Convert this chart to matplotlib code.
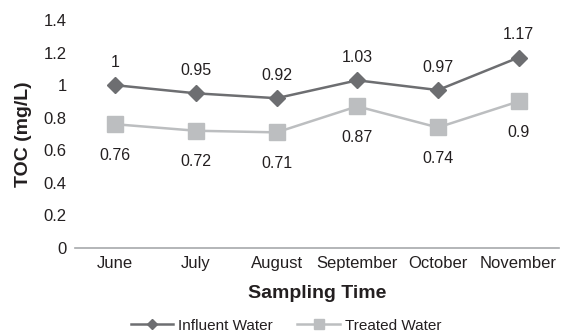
import matplotlib.pyplot as plt
from matplotlib.lines import Line2D

plt.rcParams['font.family'] = ['Liberation Sans', 'DejaVu Sans']

months = ['June', 'July', 'August', 'September', 'October', 'November']
influent = [1.00, 0.95, 0.92, 1.03, 0.97, 1.17]
treated = [0.76, 0.72, 0.71, 0.87, 0.74, 0.90]

dark = '#6d6e71'
light = '#bcbec0'
text_col = '#231f20'

fig = plt.figure(figsize=(5.66, 3.35), dpi=100)
ax = fig.add_axes([0.1325, 0.26, 0.855, 0.68])

x = range(len(months))
ax.plot(x, influent, color=dark, lw=1.8, marker='D', ms=8, mec=dark, mfc=dark)
ax.plot(x, treated, color=light, lw=1.8, marker='s', ms=11, mec=light, mfc=light)

# value labels: influent above, treated below
for i, v in enumerate(influent):
    ax.annotate('{:g}'.format(v), (i, v), xytext=(0, 11), textcoords='offset points',
                ha='center', va='bottom', fontsize=11.5, color=text_col)
for i, v in enumerate(treated):
    ax.annotate('{:g}'.format(v), (i, v), xytext=(0, -17), textcoords='offset points',
                ha='center', va='top', fontsize=11.5, color=text_col)

ax.set_xlim(-0.5, len(months) - 0.5)
ax.set_ylim(0, 1.4)
ax.set_yticks([0, 0.2, 0.4, 0.6, 0.8, 1.0, 1.2, 1.4])
ax.set_yticklabels(['0', '0.2', '0.4', '0.6', '0.8', '1', '1.2', '1.4'])
ax.set_xticks(list(x))
ax.set_xticklabels(months)
ax.tick_params(axis='both', length=0, labelsize=12, labelcolor=text_col)
ax.tick_params(axis='x', pad=6)
ax.tick_params(axis='y', pad=6)

for s in ['top', 'right', 'left']:
    ax.spines[s].set_visible(False)
ax.spines['bottom'].set_color('#a7a9ac')
ax.spines['bottom'].set_linewidth(1.2)

ax.set_xlabel('Sampling Time', fontsize=14, fontweight='bold', color=text_col, labelpad=10)
ax.set_ylabel('TOC (mg/L)', fontsize=14, fontweight='bold', color=text_col, labelpad=8.5)

handles = [
    Line2D([], [], color=dark, lw=1.8, marker='D', ms=5),
    Line2D([], [], color=light, lw=1.8, marker='s', ms=7),
]
fig.legend(handles, ['Influent Water', 'Treated Water'], loc='center',
           bbox_to_anchor=(0.505, 0.028), ncol=2, frameon=False, fontsize=11,
           handlelength=2.8, handletextpad=0.3, columnspacing=1.6,
           labelcolor=text_col)

fig.savefig('out.png', dpi=100)
